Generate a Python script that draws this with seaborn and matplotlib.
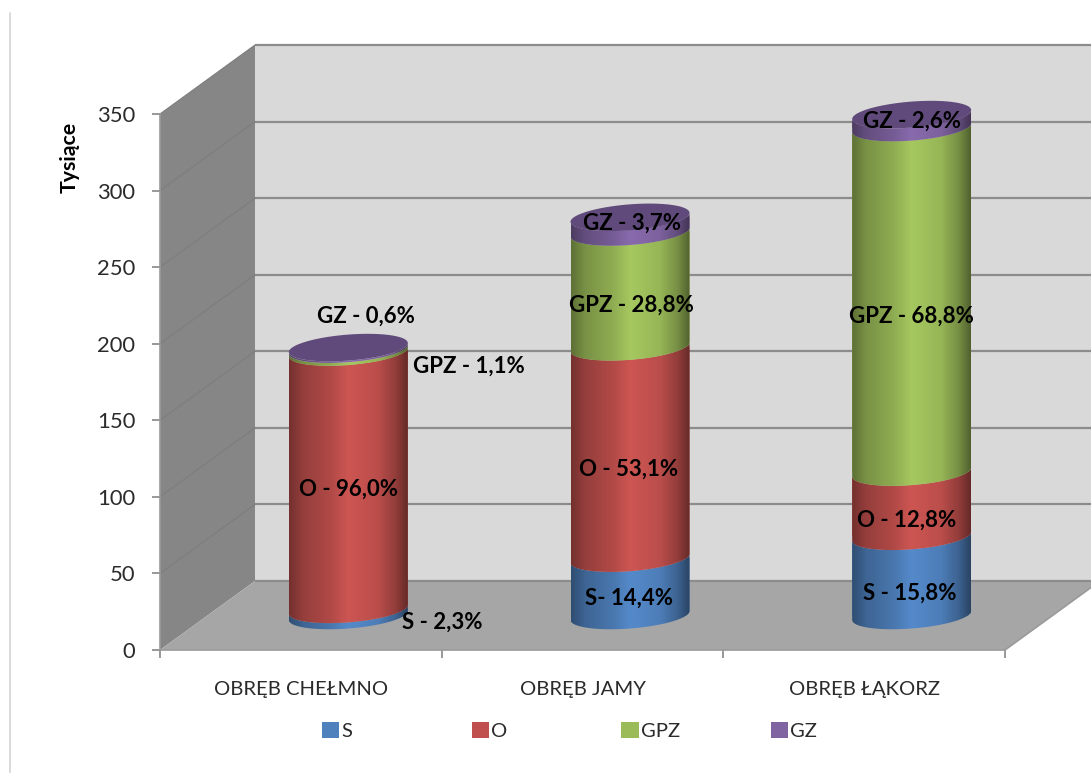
import numpy as np
import pandas as pd
import seaborn as sns
import matplotlib
matplotlib.use("Agg")
import matplotlib.pyplot as plt
from matplotlib.patches import Polygon, Patch
from matplotlib.path import Path
from matplotlib.transforms import Affine2D
from matplotlib.lines import Line2D

# ---------- data ----------
categories = ["OBRĘB CHEŁMNO", "OBRĘB JAMY", "OBRĘB ŁĄKORZ"]
series_names = ["S", "O", "GPZ", "GZ"]
values_s = [4.0, 37.4, 51.7]
values_o = [168.0, 138.0, 41.9]
values_gpz = [1.9, 75.0, 225.0]
values_gz = [1.05, 9.6, 8.5]
labels_s = ["S - 2,3%", "S- 14,4%", "S - 15,8%"]
labels_o = ["O - 96,0%", "O - 53,1%", "O - 12,8%"]
labels_gpz = ["GPZ - 1,1%", "GPZ - 28,8%", "GPZ - 68,8%"]
labels_gz = ["GZ - 0,6%", "GZ - 3,7%", "GZ - 2,6%"]
y_ticks = [0, 50, 100, 150, 200, 250, 300, 350]

# ---------- style ----------
colors = ["#4f81bd", "#c0504d", "#9bbb59", "#8064a2"]
top_face = "#604a7b"
label_offsets = [
    [(94, -10), (-1, -11), (-2, -17)],
    [(0, -8), (-1, -17), (-5, -16)],
    [(121, -16), (1, -16), (0, -16)],
    [(18, 32), (2, 1), (0, 0)],
]
W, H = 1091, 773
PX_X, PX_Y = 845 / 3.0, 536 / 350.0        # pixels per category / per unit
DEPTH_X, DEPTH_Y = 95 / PX_X, 69 / PX_Y    # full depth of the 3-D box
BAR_W = 119 / PX_X
ELL_B, ELL_S = 13.0 / PX_Y, 4.5 / PX_Y     # ellipse half-height and tilt

sns.set_theme(style="white")
plt.rcParams["font.family"] = ["Lato", "DejaVu Sans"]
fig = plt.figure(figsize=(W / 100, H / 100), dpi=100, facecolor="white")
ax = fig.add_axes([160 / W, (H - 650) / H, 845 / W, 536 / H])
ax.set_facecolor("none")

frame = pd.DataFrame({"cat": categories, "S": values_s, "O": values_o,
                      "GPZ": values_gpz, "GZ": values_gz})

# walls and floor
XL, XR, YT = -0.5, 2.5, 350
XFAR = XR + 1.0
zk = dict(clip_on=False, lw=0)
ax.add_patch(Polygon([(XL + DEPTH_X, DEPTH_Y), (XFAR, DEPTH_Y), (XFAR, YT + DEPTH_Y),
                      (XL + DEPTH_X, YT + DEPTH_Y)], fc="#d9d9d9", zorder=0.5, **zk))
ax.add_patch(Polygon([(XL, 0), (XL + DEPTH_X, DEPTH_Y), (XL + DEPTH_X, YT + DEPTH_Y),
                      (XL, YT)], fc="#868686", zorder=0.6, **zk))
ax.add_patch(Polygon([(XL, 0), (XR, 0), (XR + DEPTH_X, DEPTH_Y), (XFAR, DEPTH_Y), (XL + DEPTH_X, DEPTH_Y)],
                     fc="#a6a6a6", zorder=0.7, **zk))
for t in y_ticks:
    ax.plot([XL + DEPTH_X, XFAR], [t + DEPTH_Y] * 2, color="#8c8c8c", lw=1.6,
            clip_on=False, zorder=0.8, solid_capstyle="butt")
    if t > 0:
        ax.plot([XL, XL + DEPTH_X], [t, t + DEPTH_Y], color="#7d7d7d", lw=0.8,
                clip_on=False, zorder=0.8)
ax.plot([XR, XR + DEPTH_X], [0, DEPTH_Y], color="#9a9a9a", lw=1.2, clip_on=False, zorder=0.85)

shade_x = [0, 0.12, 0.35, 0.5, 0.75, 0.9, 1]
shade_v = [0.60, 0.78, 0.92, 1.07, 0.97, 0.76, 0.52]
shade = np.interp(np.linspace(0, 1, 256), shade_x, shade_v)


def arc(xc, yc, reverse=False):
    t = np.linspace(np.pi, 2 * np.pi, 60)       # front half of the ellipse
    xs = xc + BAR_W / 2 * np.cos(t)
    ys = yc + ELL_B * np.sin(t) + ELL_S * np.cos(t)
    pts = np.column_stack([xs, ys])
    return pts[::-1] if reverse else pts


shift = Affine2D().translate(DEPTH_X / 2, DEPTH_Y / 2) + ax.transData
base = np.zeros(3)
all_labels = [labels_s, labels_o, labels_gpz, labels_gz]
for k, name in enumerate(series_names):
    vals = frame[name].to_numpy()
    n_before = len(ax.containers)
    sns.barplot(data=frame, x="cat", y=name, color=colors[k], saturation=1,
                width=BAR_W, bottom=base, ax=ax, errorbar=None, zorder=3 + k)
    bars = ax.containers[n_before]
    rgb = np.array(matplotlib.colors.to_rgb(colors[k]))
    img = np.clip(shade[None, :, None] * rgb[None, None, :], 0, 1)
    for i, bar in enumerate(bars):
        xc = i + DEPTH_X / 2
        y0 = base[i] + DEPTH_Y / 2
        y1 = y0 + vals[i]
        poly = np.vstack([arc(xc, y0), arc(xc, y1, reverse=True), arc(xc, y0)[:1]])
        clip = Path(poly, closed=True)
        bar.set_transform(shift)
        bar.set_linewidth(0)
        bar.set_clip_box(fig.bbox)
        bar.set_clip_path(clip, transform=ax.transData)
        im = ax.imshow(img, extent=[xc - BAR_W / 2, xc + BAR_W / 2, y0 - 2 * ELL_B, y1 + 2 * ELL_B],
                       aspect="auto", zorder=3.5 + k, interpolation="bilinear")
        im.set_clip_box(fig.bbox)
        im.set_clip_path(clip, transform=ax.transData)
        if k == len(series_names) - 1:
            t = np.linspace(0, 2 * np.pi, 120)
            face = np.column_stack([xc + BAR_W / 2 * np.cos(t),
                                    y1 + ELL_B * np.sin(t) + ELL_S * np.cos(t)])
            ax.add_patch(Polygon(face, fc=top_face, lw=0, clip_on=False, zorder=8))
        ax.annotate(all_labels[k][i], xy=(xc, y0 + vals[i] / 2),
                    xytext=label_offsets[k][i], textcoords="offset pixels",
                    ha="center", va="center", fontsize=16, fontweight="bold",
                    color="black", zorder=20, annotation_clip=False)
    base = base + vals

# axes
ax.set_xlim(XL, XR)
ax.set_ylim(0, 350)
ax.set_yticks(y_ticks)
ax.set_xticks([0, 1, 2])
ax.set_xticklabels(categories)
ax.set_xticks([-0.5, 0.5, 1.5, 2.5], minor=True)
ax.tick_params(axis="x", which="major", length=0, pad=22, labelsize=14.6, labelcolor="#2b2b2b")
ax.tick_params(axis="x", which="minor", length=5.8, width=1.2, color="#868686", bottom=True)
ax.tick_params(axis="y", which="major", length=5.8, width=1.2, color="#868686", left=True,
               pad=12, labelsize=15.8, labelcolor="#2b2b2b")
ax.set_xlabel("")
ax.set_ylabel("Tysiące", fontsize=15.3, fontweight="bold", color="black", labelpad=0)
ax.yaxis.set_label_coords((80 - 160) / 845, (650 - 157) / 536)
ax.grid(False)
for s in ("top", "right"):
    ax.spines[s].set_visible(False)
for s in ("left", "bottom"):
    ax.spines[s].set_color("#9a9a9a")
    ax.spines[s].set_linewidth(1.2)
    ax.spines[s].set_zorder(2)

# legend
handles = [Patch(fc=c, ec="none") for c in colors]
leg = fig.legend(handles, series_names, loc="center left",
                 bbox_to_anchor=(322 / W, (H - 731) / H), ncol=4, frameon=False,
                 fontsize=14.6, handlelength=0.85, handleheight=0.85, handletextpad=0.1,
                 columnspacing=4.5, labelcolor="#2b2b2b", borderpad=0, borderaxespad=0)
leg._legend_handle_box.mode = "equal"

# pale page edge at the left
fig.add_artist(Line2D([9.5 / W, 9.5 / W], [0, (H - 13) / H], color="#d4d4d4", lw=1.2))

fig.savefig("out.png", dpi=100, facecolor="white")
